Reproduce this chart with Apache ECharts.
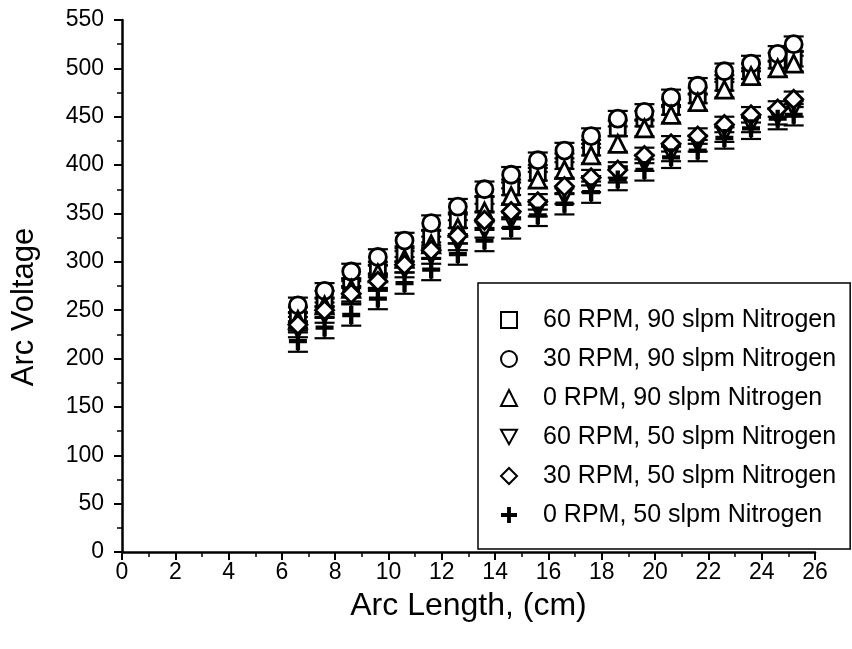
<!DOCTYPE html>
<html>
<head>
<meta charset="utf-8">
<script src="https://cdn.jsdelivr.net/npm/echarts@6/dist/echarts.min.js"></script>
<style>
  html, body { margin: 0; padding: 0; background: #fff; }
  #main { width: 852px; height: 649px; }
</style>
</head>
<body>
<div id="main"></div>
<script>
// arc length positions (cm)
var arcLen = [6.6, 7.6, 8.6, 9.6, 10.6, 11.6, 12.6, 13.6, 14.6, 15.6, 16.6, 17.6, 18.6, 19.6, 20.6, 21.6, 22.6, 23.6, 24.6, 25.2];

var names = ['60 RPM, 90 slpm Nitrogen', '30 RPM, 90 slpm Nitrogen', '0 RPM, 90 slpm Nitrogen',
  '60 RPM, 50 slpm Nitrogen', '30 RPM, 50 slpm Nitrogen', '0 RPM, 50 slpm Nitrogen'];

var rpm60n90 = [245, 262, 275, 292, 308, 325, 343, 360, 377, 392, 404, 418, 438, 448, 460, 472, 485, 497, 508, 510];
var rpm30n90 = [255, 270, 290, 305, 322, 340, 357, 375, 390, 405, 415, 430, 448, 455, 470, 482, 497, 505, 515, 525];
var rpm0n90  = [240, 255, 272, 288, 303, 318, 335, 352, 368, 385, 395, 410, 422, 438, 452, 465, 478, 492, 500, 505];
var rpm60n50 = [230, 245, 265, 278, 292, 306, 320, 333, 343, 355, 368, 380, 390, 402, 412, 422, 432, 442, 450, 458];
var rpm30n50 = [235, 250, 267, 280, 297, 312, 327, 343, 352, 362, 378, 387, 395, 410, 422, 430, 442, 452, 458, 468];
var rpm0n50  = [218, 232, 245, 262, 278, 292, 308, 322, 335, 348, 360, 372, 385, 395, 408, 415, 428, 438, 448, 452];

// error bar half heights, one per series
var errs = [8, 8, 8, 8, 8, 11];

var yTicks = [0, 50, 100, 150, 200, 250, 300, 350, 400, 450, 500, 550];
var xTicks = [0, 2, 4, 6, 8, 10, 12, 14, 16, 18, 20, 22, 24, 26];

var allVals = [rpm60n90, rpm30n90, rpm0n90, rpm60n50, rpm30n50, rpm0n50];
var symbols = [
  'rect',
  'circle',
  'triangle',
  'path://M0,0L10,0L5,9Z',
  'diamond',
  'path://M3.8,0H6.2V3.8H10V6.2H6.2V10H3.8V6.2H0V3.8H3.8Z'
];
var sizes = [15, 17, 17, 16, 18, 18];

var font = 'Liberation Sans, Arial, sans-serif';

function pairs(v){
  var out = [];
  for (var i = 0; i < arcLen.length; i++) {
    out.push([arcLen[i], v[i]]);
  }
  return out;
}

var series = [];
// error bars first so markers draw on top
for (var s = 0; s < allVals.length; s++) {
  (function(k){
    series.push({
      type: 'custom',
      silent: true,
      z: 1,
      data: pairs(allVals[k]),
      renderItem: function(params, api){
        var x = api.value(0), y = api.value(1);
        var top = api.coord([x, y + errs[k]]);
        var bot = api.coord([x, y - errs[k]]);
        var w = 10;
        var st = { stroke: '#000', lineWidth: 2.2 };
        return {
          type: 'group',
          children: [
            { type: 'line', shape: { x1: top[0], y1: top[1], x2: bot[0], y2: bot[1] }, style: st },
            { type: 'line', shape: { x1: top[0]-w, y1: top[1], x2: top[0]+w, y2: top[1] }, style: st },
            { type: 'line', shape: { x1: bot[0]-w, y1: bot[1], x2: bot[0]+w, y2: bot[1] }, style: st }
          ]
        };
      }
    });
  })(s);
}
for (var s = 0; s < allVals.length; s++) {
  var solid = (s == 5);
  series.push({
    name: names[s],
    type: 'scatter',
    z: 3,
    symbol: symbols[s],
    symbolSize: sizes[s],
    itemStyle: {
      color: solid ? '#000' : '#fff',
      borderColor: '#000',
      borderWidth: solid ? 0 : 2.8,
      opacity: 1
    },
    data: pairs(allVals[s])
  });
}

var myChart = echarts.init(document.getElementById('main'));
var option = {
  backgroundColor: '#fff',
  animation: false,
  grid: { left: 122, right: 37, top: 20, bottom: 97 },
  legend: {
    orient: 'vertical',
    left: 478,
    top: 283,
    padding: [24, 14, 21, 22],
    borderColor: '#000',
    borderWidth: 1.5,
    itemWidth: 16,
    itemHeight: 16,
    itemGap: 13,
    data: names,
    textStyle: { fontFamily: font, fontSize: 25, lineHeight: 26, color: '#000', padding: [0, 0, 0, 21] }
  },
  graphic: [{
    type: 'text',
    x: 24,
    y: 307,
    rotation: Math.PI / 2,
    style: {
      text: 'Arc Voltage',
      fontFamily: font,
      fontSize: 31,
      fill: '#000',
      align: 'center',
      verticalAlign: 'middle'
    }
  }],
  xAxis: {
    type: 'value',
    min: 0, max: 26, interval: 2,
    name: 'Arc Length, (cm)',
    nameLocation: 'middle',
    nameGap: 38,
    nameTextStyle: { fontFamily: font, fontSize: 32, color: '#000' },
    axisLine: { lineStyle: { color: '#000', width: 2.5 } },
    axisTick: { inside: false, length: 8, lineStyle: { color: '#000', width: 2 } },
    minorTick: { show: true, splitNumber: 2, length: 5, lineStyle: { color: '#000', width: 1.5 } },
    axisLabel: { fontFamily: font, fontSize: 23, color: '#000', margin: 9,
      formatter: function(v){ return xTicks.indexOf(v) >= 0 ? v : ''; } },
    splitLine: { show: false }
  },
  yAxis: {
    type: 'value',
    min: 0, max: 550, interval: 50,
    axisLine: { show: true, lineStyle: { color: '#000', width: 2.5 } },
    axisTick: { show: true, inside: false, length: 8, lineStyle: { color: '#000', width: 2 } },
    minorTick: { show: true, splitNumber: 2, length: 5, lineStyle: { color: '#000', width: 1.5 } },
    axisLabel: { fontFamily: font, fontSize: 23, color: '#000', margin: 18,
      formatter: function(v){ return yTicks.indexOf(v) >= 0 ? v : ''; } },
    splitLine: { show: false }
  },
  series: series
};
myChart.setOption(option);
</script>
</body>
</html>
